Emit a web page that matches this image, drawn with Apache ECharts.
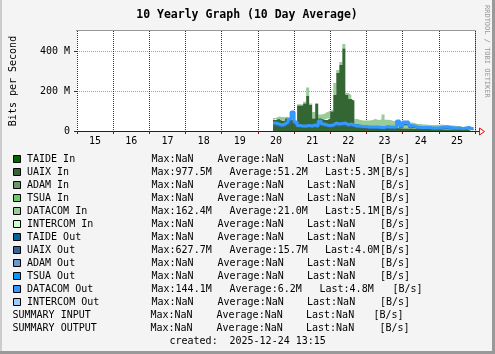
<!DOCTYPE html>
<html>
<head>
<meta charset="utf-8">
<script src="https://cdn.jsdelivr.net/npm/echarts@6/dist/echarts.min.js"></script>
<style>
  html, body { margin: 0; padding: 0; background: #f4f4f4; }
  #chart { width: 495px; height: 354px; }
</style>
</head>
<body>
<div id="chart"></div>
<script>
const MONO = '"DejaVu Sans Mono", "Liberation Mono", monospace'
const GRID_RED = '#a00000'
const GRID_GRAY = '#a0a0a0'

// x axis tick labels (years, 2 digit)
const yearLabels = ['15', '16', '17', '18', '19', '20', '21', '22', '23', '24', '25']

// monthly 10-day-average samples, Jun 2020 .. Dec 2025 (values in Mbit/s)
const startYear = 2020
const startMonth = 6
const uaixIn = [55, 60, 50, 50, 63, 55, 55, 38, 127, 127,
  138, 175, 130, 63, 135, 63, 55, 55, 63, 97,
  180, 290, 330, 413, 180, 160, 150, 35, 30, 25,
  25, 22, 20, 20, 20, 18, 18, 16, 15, 15,
  15, 14, 12, 12, 12, 12, 10, 10, 10, 10,
  10, 10, 9, 9, 9, 9, 8, 8, 8, 8,
  8, 7, 7, 7, 6, 6, 6]
const datacomIn = [10, 12, 20, 20, 8, 5, 5, 8, 7, 5,
  8, 43, 8, 32, 5, 20, 30, 40, 37, 10,
  60, 15, 15, 22, 10, 20, 5, 25, 25, 28,
  28, 30, 35, 40, 35, 40, 65, 40, 40, 35,
  37, 36, 33, 30, 30, 30, 30, 25, 25, 22,
  22, 20, 21, 21, 21, 23, 22, 22, 20, 20,
  17, 18, 13, 11, 12, 9, 9]
const uaixOut = [28, 25, 21, 25, 32, 42, 68, 32, 20, 18,
  18, 20, 18, 21, 18, 35, 25, 21, 20, 21,
  28, 25, 27, 28, 22, 25, 21, 18, 18, 15,
  15, 14, 14, 14, 14, 13, 13, 15, 14, 14,
  14, 35, 18, 32, 32, 20, 18, 14, 13, 13,
  13, 13, 10, 10, 10, 13, 14, 14, 13, 10,
  10, 10, 8, 10, 13, 8, 7]
const datacomOut = [12, 10, 9, 10, 13, 18, 27, 13, 8, 7,
  7, 8, 7, 9, 7, 15, 10, 9, 8, 9,
  12, 10, 11, 12, 10, 10, 9, 7, 7, 7,
  7, 6, 6, 6, 6, 5, 5, 7, 6, 6,
  6, 15, 7, 13, 13, 8, 7, 6, 5, 5,
  5, 5, 5, 5, 5, 5, 6, 6, 5, 5,
  5, 5, 4, 5, 5, 4, 5]

// legend rows: name, swatch colour, max, average, last
const legendNames = ['TAIDE In', 'UAIX In', 'ADAM In', 'TSUA In', 'DATACOM In', 'INTERCOM In',
  'TAIDE Out', 'UAIX Out', 'ADAM Out', 'TSUA Out', 'DATACOM Out', 'INTERCOM Out']
const legendColors = ['#006600', '#336633', '#669966', '#66cc66', '#99cc99', '#ccffcc',
  '#006699', '#336699', '#6699cc', '#0099ff', '#3399ff', '#99ccff']
const legendMax = ['NaN', '977.5M', 'NaN', 'NaN', '162.4M', 'NaN', 'NaN', '627.7M', 'NaN', 'NaN', '144.1M', 'NaN']
const legendAvg = ['NaN', '51.2M', 'NaN', 'NaN', '21.0M', 'NaN', 'NaN', '15.7M', 'NaN', 'NaN', '6.2M', 'NaN']
const legendLast = ['NaN', '5.3M', 'NaN', 'NaN', '5.1M', 'NaN', 'NaN', '4.0M', 'NaN', 'NaN', '4.8M', 'NaN']
const summaryNames = ['SUMMARY INPUT', 'SUMMARY OUTPUT']
const createdText = '2025-12-24 13:15'

// month slots for the whole 2015..2025 span (hidden category axis)
const firstYear = 2000 + Number(yearLabels[0])
const lastYear = 2000 + Number(yearLabels[yearLabels.length - 1])
let months = []
for (let y = firstYear; y <= lastYear; y++) {
  for (let m = 1; m <= 12; m++) months.push(y + '-' + (m < 10 ? '0' + m : m))
}
const offset = (startYear - firstYear) * 12 + startMonth - 1

function padded(arr) {
  return new Array(offset).fill(null).concat(arr)
}

function txt(x, y, s, extra) {
  return {
    type: 'text', x: x, y: y, silent: true,
    style: Object.assign({ text: s, font: '10px ' + MONO, fill: '#000', verticalAlign: 'middle' }, extra || {})
  }
}

// legend graphics
let legend = []
const rowY = 159
const rowH = 13
legendNames.forEach((name, k) => {
  let y = rowY + k * rowH
  let valued = legendMax[k] !== 'NaN'
  legend.push({
    type: 'rect', silent: true,
    shape: { x: 13.5, y: y - 3.5, width: 7, height: 7 },
    style: { fill: legendColors[k], stroke: '#000', lineWidth: 1 }
  })
  legend.push(txt(27, y, name))
  legend.push(txt(151.5, y, 'Max:' + legendMax[k]))
  legend.push(txt(valued ? 229.5 : 217.5, y, 'Average:' + legendAvg[k]))
  let lastX = valued ? (legendLast[k] === '4.8M' ? 319.5 : 325) : 307
  legend.push(txt(lastX, y, 'Last:' + legendLast[k]))
  legend.push(txt(legendLast[k] === '4.8M' ? 392.5 : 380, y, '[B/s]'))
})
summaryNames.forEach((name, k) => {
  let y = rowY + (legendNames.length + k) * rowH
  legend.push(txt(12.5, y, name))
  legend.push(txt(150.5, y, 'Max:NaN'))
  legend.push(txt(216.5, y, 'Average:NaN'))
  legend.push(txt(306, y, 'Last:NaN'))
  legend.push(txt(k === 0 ? 373.5 : 379.5, y, '[B/s]'))
})
let createdY = rowY + (legendNames.length + summaryNames.length) * rowH
legend.push(txt(169.5, createdY, 'created:'))
legend.push(txt(229.5, createdY, createdText))

const chart = echarts.init(document.getElementById('chart'))

let option = {
  backgroundColor: '#f4f4f4',
  animation: false,
  grid: {
    left: 76, top: 31, width: 399, height: 100,
    show: true, backgroundColor: '#ffffff', borderWidth: 0
  },
  xAxis: [{
    // year grid and labels
    type: 'value',
    min: firstYear, max: lastYear + 1, interval: 1,
    axisLine: { show: true, lineStyle: { color: '#4a1010', width: 1 } },
    axisTick: { show: true, length: 3, lineStyle: { color: GRID_RED } },
    axisLabel: {
      customValues: yearLabels.map(l => 2000 + Number(l) + 0.5),
      formatter: v => String(Math.floor(v)).slice(2),
      fontFamily: MONO, fontSize: 10, color: '#000', margin: 5
    },
    splitLine: { show: true, lineStyle: { color: GRID_RED, type: [1, 1], width: 1 } }
  }, {
    // monthly data slots
    type: 'category',
    data: months,
    boundaryGap: true,
    show: false
  }],
  yAxis: {
    type: 'value',
    min: 0, max: 500, interval: 50,
    name: 'Bits per Second',
    nameLocation: 'middle', nameGap: 59, nameRotate: 90,
    nameTextStyle: { fontFamily: MONO, fontSize: 10, color: '#000' },
    axisLine: { show: false },
    axisTick: { show: true, length: 3, customValues: [0, 200, 400], lineStyle: { color: GRID_RED } },
    axisLabel: {
      customValues: [0, 200, 400],
      formatter: v => v === 0 ? '0' : v + ' M',
      fontFamily: MONO, fontSize: 10, color: '#000', margin: 7
    },
    splitLine: {
      show: true,
      lineStyle: { color: [GRID_RED, GRID_GRAY, GRID_GRAY, GRID_GRAY], type: [1, 1], width: 1 }
    }
  },
  series: [
    {
      name: 'UAIX In', type: 'line', xAxisIndex: 1, stack: 'in', data: padded(uaixIn),
      step: 'middle', showSymbol: false, lineStyle: { width: 0 },
      areaStyle: { color: '#336633', opacity: 1 }, z: 2
    },
    {
      name: 'DATACOM In', type: 'line', xAxisIndex: 1, stack: 'in', data: padded(datacomIn),
      step: 'middle', showSymbol: false, lineStyle: { width: 0 },
      areaStyle: { color: '#99cc99', opacity: 1 }, z: 1
    },
    {
      name: 'UAIX Out', type: 'line', xAxisIndex: 1, stack: 'out', data: padded(uaixOut),
      step: 'middle', showSymbol: false, lineStyle: { width: 1.5, color: '#336699' }, z: 3
    },
    {
      name: 'DATACOM Out', type: 'line', xAxisIndex: 1, stack: 'out', data: padded(datacomOut),
      step: 'middle', showSymbol: false, lineStyle: { width: 3, color: '#3399ff' }, z: 4
    }
  ],
  graphic: [
    {
      type: 'text', x: 247, y: 15, silent: true,
      style: { text: '10 Yearly Graph (10 Day Average)', font: 'bold 11.5px ' + MONO, fill: '#000', align: 'center', verticalAlign: 'middle' }
    },
    {
      type: 'text', x: 487, y: 5, rotation: -Math.PI / 2, silent: true,
      style: { text: 'RRDTOOL / TOBI OETIKER', font: '7px ' + MONO, fill: '#999', verticalAlign: 'middle' }
    },
    // plot frame top and right
    { type: 'line', silent: true, shape: { x1: 76, y1: 30.5, x2: 475.5, y2: 30.5 }, style: { stroke: '#999', lineWidth: 1 } },
    { type: 'line', silent: true, shape: { x1: 475.5, y1: 30.5, x2: 475.5, y2: 131 }, style: { stroke: '#999', lineWidth: 1 } },
    // axis arrow
    { type: 'line', silent: true, shape: { x1: 475, y1: 131.5, x2: 479, y2: 131.5 }, style: { stroke: '#4a1010', lineWidth: 1 } },
    {
      type: 'polygon', silent: true,
      shape: { points: [[479.5, 128], [484.5, 131.5], [479.5, 135]] },
      style: { fill: 'none', stroke: '#ff0000', lineWidth: 1 }
    },
    // outer 3d border
    { type: 'rect', silent: true, shape: { x: 0, y: 0, width: 2, height: 354 }, style: { fill: '#cccccc' } },
    { type: 'rect', silent: true, shape: { x: 492, y: 0, width: 3, height: 354 }, style: { fill: '#999999' } },
    { type: 'rect', silent: true, shape: { x: 0, y: 351, width: 495, height: 3 }, style: { fill: '#999999' } }
  ].concat(legend)
}

chart.setOption(option)
</script>
</body>
</html>
